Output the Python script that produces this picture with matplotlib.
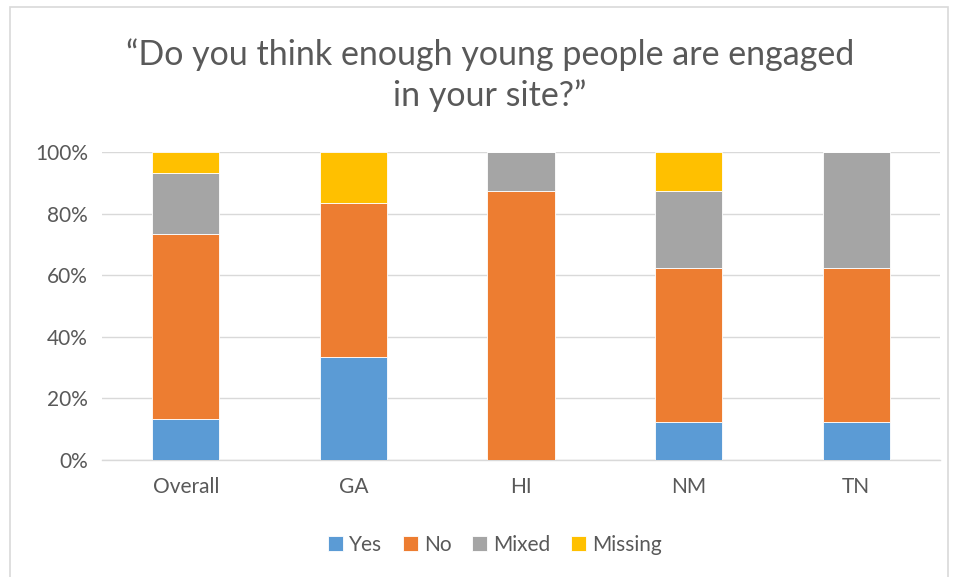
import matplotlib.pyplot as plt
import matplotlib.patches as mpatches
import numpy as np

# Data (percent)
sites = ['Overall', 'GA', 'HI', 'NM', 'TN']
yes = [13.3, 33.3, 0.0, 12.5, 12.5]
no = [60.0, 50.0, 87.5, 50.0, 50.0]
mixed = [20.0, 0.0, 12.5, 25.0, 37.5]
missing = [6.7, 16.7, 0.0, 12.5, 0.0]

series = [('Yes', yes, '#5B9BD5'), ('No', no, '#ED7D31'),
          ('Mixed', mixed, '#A5A5A5'), ('Missing', missing, '#FFC000')]

plt.rcParams['font.family'] = ['Lato', 'DejaVu Sans']
text_color = '#595959'

fig = plt.figure(figsize=(9.58, 5.77), dpi=100)
ax = fig.add_axes([102 / 958, 1 - 460 / 577, 838 / 958, 308 / 577])

# chart border
fig.patches.append(mpatches.Rectangle((10 / 958, -0.01), 938 / 958, 1 - 7 / 577 + 0.01,
                                      transform=fig.transFigure, fill=False,
                                      edgecolor='#D9D9D9', linewidth=1.2))

x = np.arange(len(sites))
bottom = np.zeros(len(sites))
for name, vals, col in series:
    ax.bar(x, vals, 0.4, bottom=bottom, color=col, label=name,
           edgecolor='white', linewidth=0.6, zorder=3)
    bottom += np.array(vals)

ax.set_xlim(-0.5, len(sites) - 0.5)
ax.set_ylim(0, 100)
ax.set_yticks(np.arange(0, 101, 20))
ax.set_yticklabels([f'{v}%' for v in range(0, 101, 20)])
ax.set_xticks(x)
ax.set_xticklabels(sites)
ax.tick_params(length=0, labelsize=15, labelcolor=text_color)
ax.tick_params(axis='x', pad=12)
ax.tick_params(axis='y', pad=10)
ax.grid(axis='y', color='#D9D9D9', linewidth=1, zorder=0)
for s in ['top', 'right', 'left']:
    ax.spines[s].set_visible(False)
ax.spines['bottom'].set_color('#D9D9D9')
ax.spines['bottom'].set_linewidth(1)

fig.text(490 / 958, 1 - 75 / 577, '\u201cDo you think enough young people are engaged\nin your site?\u201d',
         ha='center', va='center', fontsize=24.5, color=text_color, linespacing=1.3)

fig.legend(loc='center', bbox_to_anchor=(495 / 958, 1 - 545 / 577), ncol=4, frameon=False,
           fontsize=15, labelcolor=text_color, handlelength=0.7, handleheight=0.7,
           handletextpad=0.3, columnspacing=1.0)

fig.savefig('out.png', dpi=100, facecolor='white')
